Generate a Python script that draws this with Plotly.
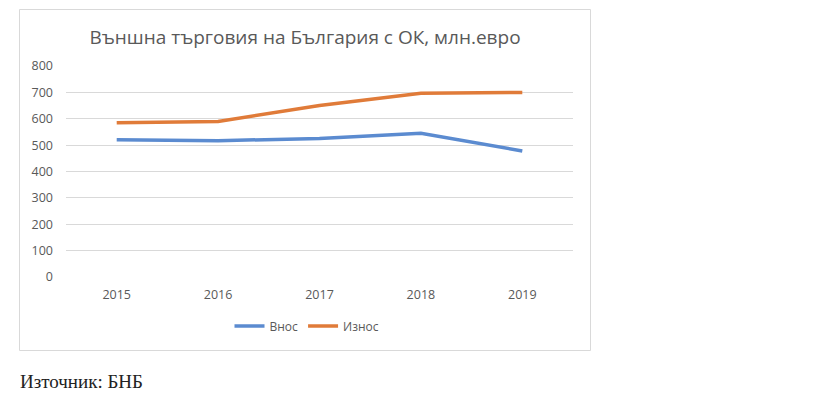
import plotly.graph_objects as go

years = ["2015", "2016", "2017", "2018", "2019"]
vnos = [520, 517, 525, 545, 478]
iznos = [585, 590, 650, 697, 700]
y_ticks = [0, 100, 200, 300, 400, 500, 600, 700, 800]

OFF = 8  # page body margin
W, H = 824 - OFF, 397 - OFF
L, R, T, B = 66 - OFF, 573 - OFF, 66 - OFF, 277 - OFF
pw, ph = R - L, B - T

def px(x):
    return (x - OFF - L) / pw

def py(y):
    return (B - (y - OFF)) / ph

fig = go.Figure()
fig.add_trace(go.Scatter(x=years, y=vnos, mode="lines", name="Внос",
                         line=dict(color="#5B8BD0", width=3.5)))
fig.add_trace(go.Scatter(x=years, y=iznos, mode="lines", name="Износ",
                         line=dict(color="#E07B39", width=3.5)))

fig.update_layout(
    width=W, height=H,
    margin=dict(l=L, r=W - R, t=T, b=H - B),
    paper_bgcolor="white", plot_bgcolor="white",
    font=dict(family="Open Sans, Noto Sans, sans-serif", color="#595959", size=12),
    title=dict(text="Външна търговия на България с ОК, млн.евро",
               x=px(305), xref="paper", xanchor="center",
               y=1 - (37 - OFF) / H, yanchor="middle",
               font=dict(size=19, color="#595959")),
    showlegend=True,
    legend=dict(orientation="h", x=px(307), xanchor="center", y=py(326), yanchor="middle",
                font=dict(size=12, color="#595959"), bgcolor="rgba(0,0,0,0)",
                itemwidth=30, tracegroupgap=0),
    xaxis=dict(type="category", range=[-0.5, 4.5], showgrid=False, showline=False,
               ticks="", ticklabelstandoff=8, zeroline=False, tickfont=dict(size=12.5)),
    yaxis=dict(range=[0, 800], tickvals=y_ticks, showgrid=True, gridcolor="#D9D9D9",
               gridwidth=1, zeroline=False, showline=False, ticks="",
               ticklabelstandoff=12, fixedrange=True, tickfont=dict(size=12.5)),
)

# chart border
fig.add_shape(type="rect", xref="paper", yref="paper",
              x0=px(19.5), x1=px(590.5), y0=py(350.5), y1=py(9.5),
              line=dict(color="#D9D9D9", width=1), fillcolor="rgba(0,0,0,0)", layer="below")

fig.add_annotation(text="Източник: БНБ", xref="paper", yref="paper",
                   x=px(18), y=py(381), xanchor="left", yanchor="middle", showarrow=False,
                   font=dict(family="Liberation Serif, Times New Roman, serif", size=19, color="#222222"))

fig.write_html("out.html")
